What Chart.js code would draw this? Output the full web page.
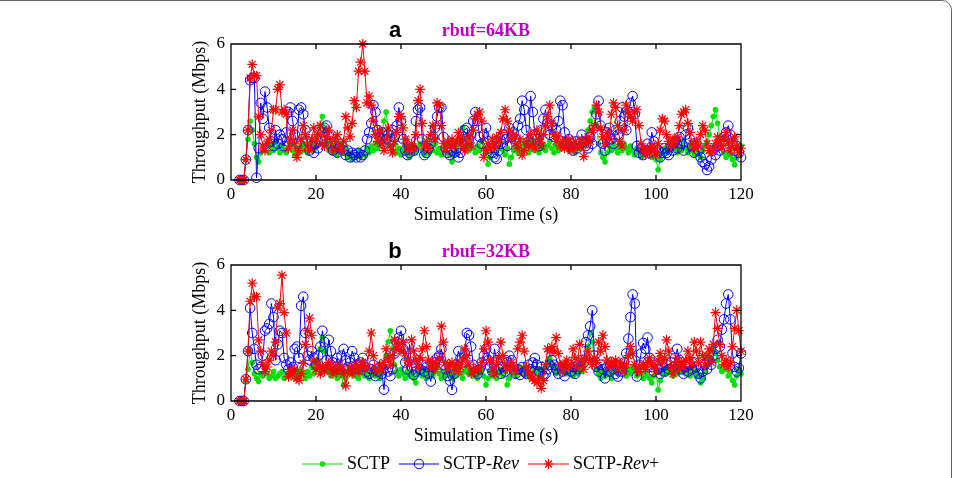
<!DOCTYPE html>
<html lang="en">
<head>
<meta charset="UTF-8">
<title>Throughput vs simulation time</title>
<script src="https://cdn.jsdelivr.net/npm/chart.js@4.4.0/dist/chart.umd.min.js"></script>
<style>
  body { margin: 0; width: 956px; height: 478px; background: #fff; overflow: hidden; position: relative; font-family: "Liberation Serif", serif; }
  .frame { position: absolute; left: -20px; top: 0; width: 972px; height: 540px; box-sizing: border-box; border: 1.5px solid #666; border-radius: 10px; }
  canvas { position: absolute; left: 0; }
  .lbl { position: absolute; transform: translate(-50%, -50%); white-space: nowrap; }
  .letter { font-family: "Liberation Sans", Arial, sans-serif; font-weight: bold; font-size: 22px; color: #000; }
  .rbuf { font-weight: bold; font-size: 18px; color: #bf00bf; }
  .legend { position: absolute; left: 302px; top: 453px; display: flex; align-items: center; font-size: 18px; color: #000; }
  .legend .item { display: flex; align-items: center; margin-right: 9px; }
  .legend svg { margin-right: 4px; }
</style>
</head>
<body>
<div class="frame"></div>

<canvas id="chartA" width="956" height="240" style="top:0"></canvas>
<canvas id="chartB" width="956" height="240" style="top:221px"></canvas>

<div class="lbl letter" style="left:395px; top:30px">a</div>
<div class="lbl rbuf" style="left:486px; top:30px">rbuf=64KB</div>
<div class="lbl letter" style="left:395px; top:251px">b</div>
<div class="lbl rbuf" style="left:486px; top:251px">rbuf=32KB</div>

<div class="legend">
  <div class="item">
    <svg width="41" height="12"><line x1="0" y1="6" x2="41" y2="6" stroke="#00e000" stroke-width="1"/><circle cx="20.5" cy="6" r="2.8" fill="#00e000"/></svg>
    <span>SCTP</span>
  </div>
  <div class="item">
    <svg width="40" height="12"><line x1="0" y1="6" x2="40" y2="6" stroke="#0000ff" stroke-width="1"/><circle cx="20" cy="6" r="4.8" fill="none" stroke="#0000ff" stroke-width="1"/></svg>
    <span>SCTP-<i>Rev</i></span>
  </div>
  <div class="item">
    <svg width="41" height="12"><line x1="0" y1="6" x2="41" y2="6" stroke="#ff0000" stroke-width="1"/>
      <path d="M20.5 1V11M15.5 6H25.5M17 2.5L24 9.5M24 2.5L17 9.5" stroke="#ff0000" stroke-width="1.2"/></svg>
    <span>SCTP-<i>Rev</i>+</span>
  </div>
</div>

<script>
// sampling grid: one value every 0.5 s starting at 2 s
const t0 = 2;
const dt = 0.5;

// panel a, rbuf=64KB (Mbps)
const sctpA = [
  0,0,0,0.9,1.8,2.6,2.2,1.6,1.0,0.8,1.2,1.4,1.3,1.6,1.2,1.5,1.3,1.7,1.4,1.2,
  1.5,1.3,1.2,1.4,1.6,1.3,1.1,1.4,1.2,1.5,1.3,1.6,1.2,1.4,1.7,1.3,1.5,2.0,2.4,2.8,
  2.2,1.6,1.3,1.5,1.2,1.4,1.1,1.3,1.6,1.2,1.4,1.0,1.2,0.9,1.1,1.0,1.3,1.0,1.2,1.1,
  1.4,1.2,1.5,1.3,1.6,1.4,1.8,2.1,2.6,3.0,2.2,1.5,1.3,1.6,1.2,1.4,1.1,1.3,1.5,1.2,
  1.0,1.3,1.5,1.2,1.4,1.6,1.3,1.1,1.4,1.2,1.5,1.3,1.6,1.2,1.4,1.1,1.3,1.5,1.2,1.1,
  0.8,1.1,1.4,1.6,1.9,2.3,1.8,1.5,1.3,1.6,1.4,1.2,1.5,1.3,1.7,1.4,1.2,0.7,1.0,1.3,
  1.5,1.2,1.4,1.6,1.3,1.1,1.4,0.7,1.0,1.3,1.5,1.2,1.4,1.6,1.3,1.5,1.2,1.4,1.7,1.3,
  1.5,1.2,1.4,1.6,1.3,1.5,1.7,1.4,1.2,1.5,1.3,1.6,1.4,1.8,1.5,1.3,1.6,1.4,1.2,1.5,
  1.4,1.6,1.5,1.8,2.2,2.6,3.0,3.2,2.4,1.6,1.2,1.0,0.8,1.2,1.5,1.3,1.6,1.4,1.2,1.5,
  1.3,1.6,1.4,1.2,1.5,1.3,1.1,1.4,1.2,1.0,1.3,1.1,1.4,1.2,1.0,1.3,0.9,0.45,0.9,1.2,
  1.4,1.2,1.5,1.3,1.6,1.4,1.2,1.5,1.3,1.7,1.4,1.2,1.5,1.3,1.1,1.4,1.2,1.0,1.3,1.5,
  1.7,2.0,2.4,2.8,3.1,2.5,1.9,1.5,1.2,1.0,1.3,1.1,0.9,0.67,1.0,1.3,1.5
];
const revA = [
  0,0,0,0.9,2.2,4.4,4.5,4.5,0.1,1.4,3.4,2.7,3.9,3.2,2.3,1.7,1.5,2.2,1.6,2.0,
  1.8,1.5,2.1,3.0,3.2,2.6,2.0,1.6,3.1,3.2,2.9,2.2,1.7,1.3,1.5,1.2,1.6,1.4,1.8,2.1,
  2.3,2.4,2.0,1.6,1.3,1.5,1.2,1.4,1.6,1.3,1.1,1.3,1.0,1.2,1.1,1.0,1.2,1.0,1.1,1.3,
  1.8,2.1,2.5,3.3,3.0,2.2,1.9,2.1,1.6,1.8,2.0,1.7,2.2,1.9,2.4,3.2,2.6,1.8,1.3,1.1,
  1.2,1.4,1.3,2.6,3.1,3.2,1.8,1.1,1.2,1.4,1.6,1.9,2.3,2.8,3.2,3.2,1.9,1.4,1.2,1.1,
  1.3,1.2,1.4,1.0,1.2,1.9,2.2,2.3,1.8,2.0,2.6,3.0,2.6,1.9,1.6,2.0,2.3,1.7,1.4,1.2,
  1.0,0.93,1.3,1.6,2.0,1.8,1.5,2.3,1.9,2.1,1.8,2.4,2.7,3.5,3.1,2.2,1.7,3.7,3.0,2.0,
  1.8,1.5,2.2,2.7,3.1,2.5,2.0,2.4,1.9,2.2,2.6,3.5,3.3,2.1,1.6,1.8,1.5,1.3,1.7,1.4,
  1.6,2.0,1.7,1.5,1.4,1.9,1.6,2.3,2.9,3.5,2.4,1.6,1.3,2.1,2.3,1.8,1.6,2.2,2.0,2.6,
  3.2,2.8,2.2,3.0,3.4,3.7,2.9,1.5,1.2,1.4,1.1,1.3,1.6,1.2,2.1,1.7,1.4,1.3,1.0,1.2,
  1.4,1.2,1.1,1.5,1.3,1.7,1.4,1.9,1.6,1.3,2.0,2.3,1.8,1.5,1.2,1.6,1.3,1.0,0.8,0.7,
  0.44,0.6,0.9,1.3,1.1,1.5,1.3,1.7,1.9,2.1,2.4,2.0,1.6,1.3,1.5,1.2,1.0
];
const revPlusA = [
  0,0,0,0.9,2.2,4.5,5.1,4.6,4.6,2.8,2.0,1.5,1.3,1.6,1.8,2.2,3.1,3.1,4.0,4.2,
  3.0,3.1,2.9,1.4,1.8,2.2,1.6,1.0,1.3,1.8,2.4,2.0,1.5,1.3,1.8,2.3,1.7,2.0,2.4,1.6,
  1.5,1.9,2.2,1.7,1.3,1.8,2.0,1.5,1.3,1.7,2.8,2.3,1.9,2.5,3.5,3.2,4.8,5.2,6.0,4.8,
  3.4,3.7,3.3,2.6,2.0,1.7,2.2,1.6,1.3,1.8,2.3,1.5,1.2,1.7,2.1,2.8,2.8,2.3,1.8,1.5,
  1.3,1.6,1.4,2.0,3.5,4.0,2.5,1.5,1.7,1.4,2.0,2.4,1.8,3.4,3.3,2.4,1.6,1.3,1.7,1.5,
  1.8,1.5,1.7,2.1,1.8,1.5,1.3,1.6,1.9,1.5,2.2,2.7,2.9,3.0,2.6,1.0,1.3,1.6,1.4,1.8,
  1.5,1.9,1.7,2.1,2.7,3.1,2.6,2.2,1.8,2.0,1.6,1.4,1.8,1.1,1.3,1.7,1.5,2.0,1.6,1.4,
  2.2,1.8,1.5,2.0,2.4,2.8,3.3,2.5,2.0,1.7,1.9,1.5,1.7,1.4,1.6,1.8,1.3,1.5,1.7,1.4,
  1.5,1.8,1.03,1.6,1.9,1.7,2.2,2.4,3.3,3.0,2.3,1.9,1.6,2.1,1.8,2.9,3.4,3.2,2.4,1.7,
  1.5,2.2,3.3,3.0,2.8,2.6,3.0,3.1,2.4,1.6,1.3,1.1,1.4,1.2,1.5,1.3,1.1,1.6,2.2,2.7,
  2.6,2.0,1.7,1.5,1.8,1.6,1.9,2.4,2.9,3.0,3.1,2.5,2.1,1.6,1.4,1.7,1.5,2.0,2.4,2.2,
  1.6,1.3,1.2,1.4,1.6,1.9,1.7,1.4,1.8,2.1,1.6,1.3,1.7,1.9,1.5,1.2,1.4
];

// panel b, rbuf=32KB (Mbps)
const sctpB = [
  0,0,0,0.9,1.4,2.2,1.7,1.2,1.0,0.86,1.2,1.1,1.4,1.2,1.0,1.1,1.3,1.0,1.1,1.2,
  1.3,1.0,1.1,1.2,1.4,1.1,1.0,1.3,1.1,1.4,1.2,1.0,1.3,1.1,1.5,1.2,1.4,1.8,2.3,2.8,
  2.2,1.5,1.3,1.1,1.4,1.2,1.0,1.3,1.1,0.7,1.0,1.3,1.2,1.4,1.1,1.3,1.0,1.2,1.4,1.1,
  1.3,1.0,1.2,1.4,1.1,1.3,1.0,1.2,1.5,2.0,2.6,3.1,2.3,1.6,1.3,1.1,1.4,1.2,1.0,1.3,
  1.1,1.3,1.0,0.8,1.2,1.4,1.1,1.3,1.0,1.2,1.4,1.1,1.3,1.5,1.2,1.0,1.3,1.1,1.4,1.2,
  1.0,1.3,1.1,1.4,1.2,1.0,1.3,1.5,1.2,1.4,1.1,1.3,1.0,1.2,1.4,1.1,0.71,1.0,1.3,1.1,
  1.3,1.0,1.2,1.4,1.1,1.3,0.71,1.0,1.2,1.4,1.1,1.3,1.5,1.2,1.4,1.1,1.3,1.0,1.2,1.4,
  1.2,1.4,1.1,1.3,1.5,1.7,1.9,1.6,1.4,1.2,1.5,1.3,1.6,1.4,1.2,1.5,1.3,1.1,1.4,1.2,
  1.5,1.3,1.6,1.9,2.4,3.0,2.6,1.8,1.4,1.2,1.0,1.3,1.1,1.4,1.2,1.0,1.3,1.5,1.2,1.4,
  1.6,1.3,1.1,1.4,1.2,1.5,1.3,1.1,1.4,1.2,1.0,1.3,1.1,1.0,0.8,1.1,1.3,0.49,0.9,1.2,
  1.4,1.2,1.5,1.3,1.1,1.4,1.2,1.6,1.3,1.5,1.2,1.4,1.1,1.3,1.5,1.08,1.2,0.8,1.0,1.3,
  1.6,1.9,2.2,2.4,2.1,1.8,1.5,1.3,1.6,1.4,1.1,1.3,0.9,0.71,1.1,1.4,1.2
];
const revB = [
  0,0,0,0.96,2.2,4.1,3.0,2.3,1.6,1.4,1.5,2.0,3.1,3.2,3.4,4.3,3.7,1.8,2.5,3.1,
  3.0,1.9,1.6,1.4,1.7,1.5,2.3,2.4,1.9,4.2,4.6,3.0,2.0,1.8,2.2,1.9,1.6,2.0,2.4,3.1,
  2.6,1.8,2.7,2.2,1.7,1.5,1.9,1.4,2.0,2.3,1.8,1.5,1.7,2.2,1.9,1.6,1.4,1.7,1.9,1.5,
  1.3,1.2,1.4,1.6,1.1,1.3,1.5,1.2,0.5,1.6,1.3,1.1,1.4,2.1,2.6,2.8,3.1,2.3,1.7,1.4,
  2.5,1.5,1.15,1.3,1.8,1.4,1.6,1.3,1.5,1.2,0.86,1.5,1.7,1.9,2.0,2.3,1.6,1.4,1.1,0.9,
  0.49,1.2,1.6,2.2,1.9,1.7,2.1,3.0,2.9,2.4,1.6,1.3,1.2,1.4,1.7,2.0,2.3,1.8,1.5,1.3,
  2.3,1.8,1.4,1.2,1.5,1.3,1.7,2.0,1.8,1.5,1.2,1.4,1.15,1.5,1.3,1.2,1.6,1.4,1.7,1.9,
  1.6,1.3,1.5,1.1,1.2,1.4,1.6,1.8,1.6,1.4,1.2,1.5,1.3,1.1,1.4,1.6,1.3,1.5,1.2,1.4,
  1.5,1.8,1.7,2.6,2.9,3.3,4.0,2.0,1.5,1.3,1.6,1.4,1.0,1.5,1.3,1.7,1.4,1.2,1.08,1.5,
  1.3,1.7,2.1,2.75,3.7,4.7,4.3,1.08,1.6,2.1,2.56,2.3,2.8,1.9,1.5,1.3,1.6,1.4,1.2,1.5,
  1.3,1.6,1.4,1.7,1.5,1.9,2.3,1.8,1.4,1.2,1.5,1.3,1.6,1.4,1.7,1.5,1.2,1.0,1.3,1.6,
  1.4,1.8,1.6,2.0,2.3,2.7,2.4,3.15,3.6,4.3,4.7,3.6,2.1,1.5,1.3,1.45,2.1
];
const revPlusB = [
  0,0,0,0.96,2.2,4.4,5.2,4.6,4.6,2.7,2.2,1.6,1.3,1.5,1.8,2.2,2.0,2.6,4.1,4.3,
  5.55,3.9,3.0,1.07,1.3,1.2,1.4,1.0,0.92,1.2,1.66,2.5,3.1,3.66,2.9,1.8,1.4,1.6,1.2,1.5,
  1.3,1.5,1.7,1.4,1.2,1.5,1.3,1.6,1.4,1.2,0.67,1.3,1.5,1.2,1.4,1.6,1.3,1.5,1.7,1.4,
  1.5,2.2,3.0,2.0,1.4,1.3,1.6,1.4,1.7,2.3,1.9,1.6,2.0,2.7,2.3,2.5,2.2,2.6,2.1,1.8,
  1.6,2.7,2.2,1.8,1.5,1.9,2.3,3.1,2.4,1.8,1.5,1.7,1.4,1.6,1.9,3.3,2.6,1.7,1.4,1.6,
  1.7,1.4,1.6,1.3,1.5,1.8,2.3,2.0,1.6,1.2,1.4,1.3,1.5,1.4,1.7,2.3,3.1,2.6,1.8,1.4,
  1.2,1.6,1.9,2.6,2.0,1.6,1.4,1.5,1.7,1.5,1.3,2.3,2.6,2.9,2.2,1.5,1.3,1.2,1.0,0.9,
  0.8,1.0,0.56,0.9,1.6,2.3,2.2,2.4,2.2,2.8,2.1,1.6,1.3,1.6,1.8,1.5,1.6,2.3,1.9,1.5,
  2.5,1.8,1.4,1.9,2.2,1.8,1.6,1.9,1.7,2.6,2.2,2.9,2.4,1.8,1.5,1.7,1.6,1.8,1.4,1.7,
  1.5,1.3,1.6,2.0,2.4,2.1,1.6,1.4,1.3,1.5,1.6,1.4,1.7,1.9,1.6,1.5,1.3,1.8,2.1,1.7,
  1.9,2.7,2.2,1.5,1.2,1.6,1.9,1.4,1.7,1.5,1.8,2.2,1.9,1.6,2.6,2.2,1.7,2.6,2.0,1.6,
  2.0,2.3,1.7,2.5,3.9,3.2,2.5,2.0,1.6,1.8,1.5,1.7,2.4,3.2,4.0,3.1,2.2
];

const xTicks = [0, 20, 40, 60, 80, 100, 120];
const yTicks = [0, 2, 4, 6];

const serif = "'Liberation Serif', 'Times New Roman', serif";

// box with inward ticks on all four sides, like a matlab axes
const boxTicks = {
  id: 'boxTicks',
  afterDraw(chart) {
    const { ctx, chartArea: a, scales } = chart;
    const len = 5;
    ctx.save();
    ctx.strokeStyle = '#000';
    ctx.lineWidth = 1.3;
    ctx.beginPath();
    ctx.rect(a.left, a.top, a.right - a.left, a.bottom - a.top);
    xTicks.forEach(v => {
      const px = scales.x.getPixelForValue(v);
      ctx.moveTo(px, a.bottom); ctx.lineTo(px, a.bottom - len);
      ctx.moveTo(px, a.top); ctx.lineTo(px, a.top + len);
    });
    yTicks.forEach(v => {
      const py = scales.y.getPixelForValue(v);
      ctx.moveTo(a.left, py); ctx.lineTo(a.left + len, py);
      ctx.moveTo(a.right, py); ctx.lineTo(a.right - len, py);
    });
    ctx.stroke();
    ctx.restore();
  }
};

function toPoints(values) {
  return values.map((v, i) => ({ x: t0 + i * dt, y: v }));
}

function makeChart(id, sctp, rev, revPlus) {
  return new Chart(document.getElementById(id), {
    type: 'line',
    data: {
      datasets: [
        {
          label: 'SCTP', data: toPoints(sctp), order: 3,
          borderColor: '#00e000', backgroundColor: '#00e000', borderWidth: 1,
          pointStyle: 'circle', pointRadius: 2.8, pointBorderWidth: 0,
          pointBackgroundColor: '#00e000', clip: false
        },
        {
          label: 'SCTP-Rev', data: toPoints(rev), order: 2,
          borderColor: '#0000ff', borderWidth: 1,
          pointStyle: 'circle', pointRadius: 4.8, pointBorderWidth: 1,
          pointBorderColor: '#0000ff', pointBackgroundColor: 'rgba(0,0,0,0)', clip: false
        },
        {
          label: 'SCTP-Rev+', data: toPoints(revPlus), order: 1,
          borderColor: '#ff0000', borderWidth: 1,
          pointStyle: 'star', pointRadius: 5, pointBorderWidth: 1.2,
          pointBorderColor: '#ff0000', pointBackgroundColor: '#ff0000', clip: false
        }
      ]
    },
    options: {
      responsive: false,
      animation: false,
      devicePixelRatio: 1,
      events: [],
      layout: { padding: { left: 185, top: 44, right: 215, bottom: 0 } },
      plugins: { legend: { display: false }, tooltip: { enabled: false } },
      elements: { line: { tension: 0 } },
      scales: {
        x: {
          type: 'linear', min: 0, max: 120,
          afterBuildTicks: s => { s.ticks = xTicks.map(v => ({ value: v })); },
          afterFit: s => { s.height = 60; },
          ticks: { color: '#000', font: { family: serif, size: 17 }, padding: 4, maxRotation: 0 },
          grid: { display: false, drawTicks: false },
          border: { display: false },
          title: {
            display: true, text: 'Simulation Time (s)', color: '#000',
            font: { family: serif, size: 18 }, padding: { top: 0, bottom: 14 }
          }
        },
        y: {
          min: 0, max: 6,
          afterBuildTicks: s => { s.ticks = yTicks.map(v => ({ value: v })); },
          afterFit: s => { s.width = 46; },
          ticks: { color: '#000', font: { family: serif, size: 17 }, padding: 6 },
          grid: { display: false, drawTicks: false },
          border: { display: false },
          title: {
            display: true, text: 'Throughput (Mbps)', color: '#000',
            font: { family: serif, size: 18 }, padding: { top: 4, bottom: 0 }
          }
        }
      }
    },
    plugins: [boxTicks]
  });
}

makeChart('chartA', sctpA, revA, revPlusA);
makeChart('chartB', sctpB, revB, revPlusB);
</script>
</body>
</html>
